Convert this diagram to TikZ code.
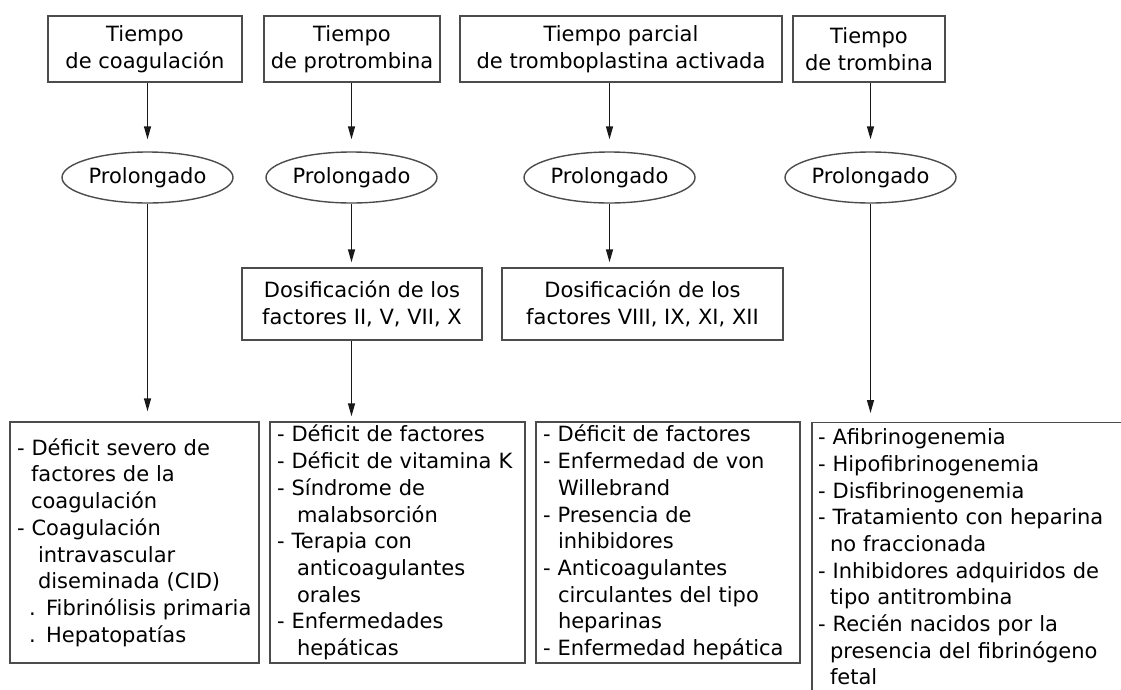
\documentclass[tikz,border=0pt]{standalone}
\usepackage{fontspec}
\setmainfont{DejaVu Sans}
\usepackage{tikz}
\usetikzlibrary{shapes.geometric,arrows.meta}

\begin{document}
\begin{tikzpicture}[
    x=1pt, y=-1pt,
    font=\fontsize{21}{26.7}\selectfont,
    tbox/.style={rectangle, draw=black!70, line width=1.4pt, align=center, minimum height=66pt, inner sep=0pt},
    oval/.style={ellipse, draw=black!70, line width=1.4pt, minimum width=171pt, minimum height=51pt, inner sep=0pt},
    dbox/.style={rectangle, draw=black!70, line width=1.4pt, align=center, minimum height=72pt, inner sep=0pt},
    lbox/.style={rectangle, draw=black!70, line width=1.4pt, align=left, minimum height=241pt, inner xsep=7pt, inner ysep=0pt},
    arrow/.style={-{Triangle[length=13pt,width=7pt]}, line width=1.4pt, draw=black!90, shorten >=#1},
    arrow/.default=5pt
]
    \path[use as bounding box, clip] (0,0) rectangle (1121,689);

    \node [tbox, minimum width=194pt] (t1) at (145,49) {Tiempo\\de coagulación};
    \node [tbox, minimum width=176pt] (t2) at (352,49) {Tiempo\\de protrombina};
    \node [tbox, minimum width=322pt] (t3) at (621,49) {Tiempo parcial\\de tromboplastina activada};
    \node [tbox, minimum width=152pt] (t4) at (869,49) {Tiempo\\de trombina};

    \node [oval] (p1) at (147.5,177.5) {Prolongado};
    \node [oval] (p2) at (351.5,177.5) {Prolongado};
    \node [oval] (p3) at (609.5,177.5) {Prolongado};
    \node [oval] (p4) at (870.5,177.5) {Prolongado};

    \node [dbox, minimum width=240pt] (d2) at (362,304) {Dosificación de los\\factores II, V, VII, X};
    \node [dbox, minimum width=281pt] (d3) at (642.5,304) {Dosificación de los\\factores VIII, IX, XI, XII};

    \node [lbox, text width=235pt] (r1) at (134.5,542.5) {- Déficit severo de\\
        \hspace*{14pt}factores de la\\
        \hspace*{14pt}coagulación\\
        - Coagulación\\
        \hspace*{21pt}intravascular\\
        \hspace*{21pt}diseminada (CID)\\
        \mbox{\hspace*{12pt}. Fibrinólisis primaria}\\
        \hspace*{12pt}. Hepatopatías};
    \node [lbox, text width=241pt] (r2) at (397.5,542.5) {- Déficit de factores\\
        - Déficit de vitamina K\\
        - Síndrome de\\
        \hspace*{20pt}malabsorción\\
        - Terapia con\\
        \hspace*{20pt}anticoagulantes\\
        \hspace*{20pt}orales\\
        - Enfermedades\\
        \hspace*{20pt}hepáticas};
    \node [lbox, text width=250pt] (r3) at (668,542.5) {- Déficit de factores\\
        - Enfermedad de von\\
        \hspace*{15pt}Willebrand\\
        - Presencia de\\
        \hspace*{15pt}inhibidores\\
        - Anticoagulantes\\
        \hspace*{15pt}circulantes del tipo\\
        \hspace*{15pt}heparinas\\
        - Enfermedad hepática};
    \node [lbox, text width=306pt, minimum height=0pt, inner xsep=6pt, inner ysep=6pt, anchor=north] (r4) at (971,422) {- Afibrinogenemia\\
        - Hipofibrinogenemia\\
        - Disfibrinogenemia\\
        - Tratamiento con heparina\\
        \hspace*{12pt}no fraccionada\\
        - Inhibidores adquiridos de\\
        \hspace*{12pt}tipo antitrombina\\
        - Recién nacidos por la\\
        \hspace*{12pt}presencia del fibrinógeno\\
        \hspace*{12pt}fetal};

    \draw [arrow=12pt] (t1.south -| p1) -- (p1.north);
    \draw [arrow=12pt] (t2.south -| p2) -- (p2.north);
    \draw [arrow=12pt] (t3.south -| p3) -- (p3.north);
    \draw [arrow=12pt] (t4.south -| p4) -- (p4.north);

    \draw [arrow=10pt] (p1.south) -- (p1.south |- r1.north);
    \draw [arrow] (p2.south) -- (p2.south |- d2.north);
    \draw [arrow] (d2.south -| p2) -- (r2.north -| p2);
    \draw [arrow] (p3.south) -- (p3.south |- d3.north);
    \draw [arrow=9pt] (p4.south) -- (p4.south |- r4.north);
\end{tikzpicture}
\end{document}
